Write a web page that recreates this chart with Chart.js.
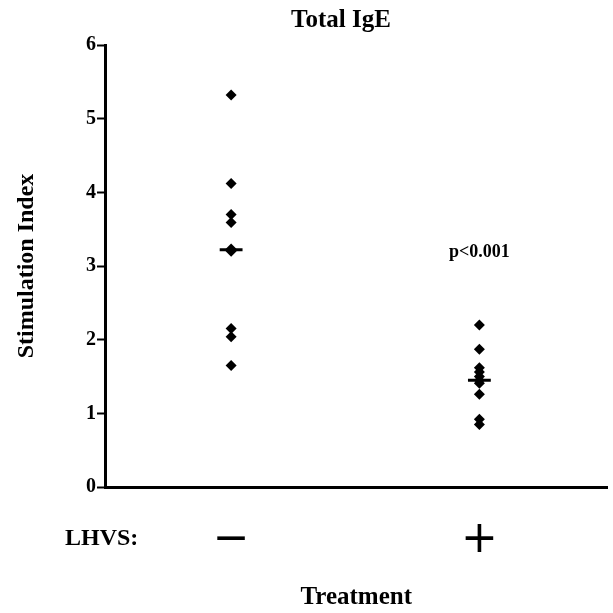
<!DOCTYPE html>
<html>
<head>
<meta charset="utf-8">
<script src="https://cdn.jsdelivr.net/npm/chart.js@4"></script>
<style>body{margin:0;background:#fff}</style>
</head>
<body>
<canvas id="chart" width="613" height="613"></canvas>
<script>
// LHVS treatment groups, shown as - and + under the axis
const groups = ['\u2212', '+'];
const controlValues = [5.32, 4.12, 3.70, 3.59, 3.23, 3.20, 2.15, 2.04, 1.65];
const lhvsValues = [2.20, 1.87, 1.62, 1.56, 1.50, 1.45, 1.41, 1.26, 0.92, 0.85];
const medians = [3.22, 1.45];
const yTicks = [0, 1, 2, 3, 4, 5, 6];
const pText = 'p<0.001';

const serif = '"Liberation Serif", "Times New Roman", serif';

function medianLine(i) {
    const g = i + 1;
    return {
        type: 'line',
        data: [{x: g - 0.046, y: medians[i]}, {x: g + 0.046, y: medians[i]}],
        borderColor: '#000',
        borderWidth: 3,
        pointRadius: 0,
        showLine: true
    };
}

// extra text: title, p value, row label
const annotate = {
    id: 'annotate',
    afterDraw(chart) {
        const ctx = chart.ctx;
        const x = chart.scales.x, y = chart.scales.y;
        ctx.save();
        ctx.fillStyle = '#000';
        ctx.textAlign = 'center';
        ctx.textBaseline = 'alphabetic';
        ctx.font = 'bold 25px ' + serif;
        ctx.fillText('Total IgE', 341, 27);
        ctx.font = 'bold 18px ' + serif;
        ctx.fillText(pText, x.getPixelForValue(2), y.getPixelForValue(3.2) + 6);
        ctx.textAlign = 'left';
        ctx.font = 'bold 24px ' + serif;
        ctx.fillText('LHVS:', 65, 545);
        ctx.restore();
    }
};

new Chart(document.getElementById('chart').getContext('2d'), {
    type: 'scatter',
    data: {
        datasets: [
            {
                data: controlValues.map(v => ({x: 1, y: v})),
                backgroundColor: '#000',
                borderWidth: 0,
                pointStyle: 'rectRot',
                pointRadius: 5.5
            },
            {
                data: lhvsValues.map(v => ({x: 2, y: v})),
                backgroundColor: '#000',
                borderWidth: 0,
                pointStyle: 'rectRot',
                pointRadius: 5.5
            },
            medianLine(0),
            medianLine(1)
        ]
    },
    options: {
        responsive: false,
        animation: false,
        layout: {padding: {top: 45, right: 2, left: 0, bottom: 0}},
        plugins: {legend: {display: false}, tooltip: {enabled: false}},
        scales: {
            x: {
                type: 'linear',
                min: 0.492,
                max: 2.516,
                afterFit: s => { s.height = 126; },
                afterBuildTicks: s => { s.ticks = groups.map((g, i) => ({value: i + 1})); },
                grid: {display: false},
                border: {color: '#000', width: 3},
                ticks: {
                    autoSkip: false,
                    maxRotation: 0,
                    padding: 19,
                    color: '#000',
                    font: {family: '"DejaVu Sans"', size: 44},
                    callback: v => groups[v - 1]
                },
                title: {
                    display: true,
                    text: 'Treatment',
                    color: '#000',
                    font: {family: serif, size: 25, weight: 'bold'},
                    padding: {top: 0, bottom: 0}
                }
            },
            y: {
                min: 0,
                max: 6,
                afterFit: s => { s.width = 105; },
                afterBuildTicks: s => { s.ticks = yTicks.map(v => ({value: v})); },
                grid: {drawOnChartArea: false, color: '#000', tickLength: 8, tickWidth: 2},
                border: {color: '#000', width: 3},
                ticks: {
                    color: '#000',
                    padding: 1,
                    font: {family: serif, size: 20, weight: 'bold'}
                },
                title: {
                    display: true,
                    text: 'Stimulation Index',
                    color: '#000',
                    font: {family: serif, size: 24, weight: 'bold'},
                    padding: {top: 12, bottom: 0}
                }
            }
        }
    },
    plugins: [annotate]
});
</script>
</body>
</html>
